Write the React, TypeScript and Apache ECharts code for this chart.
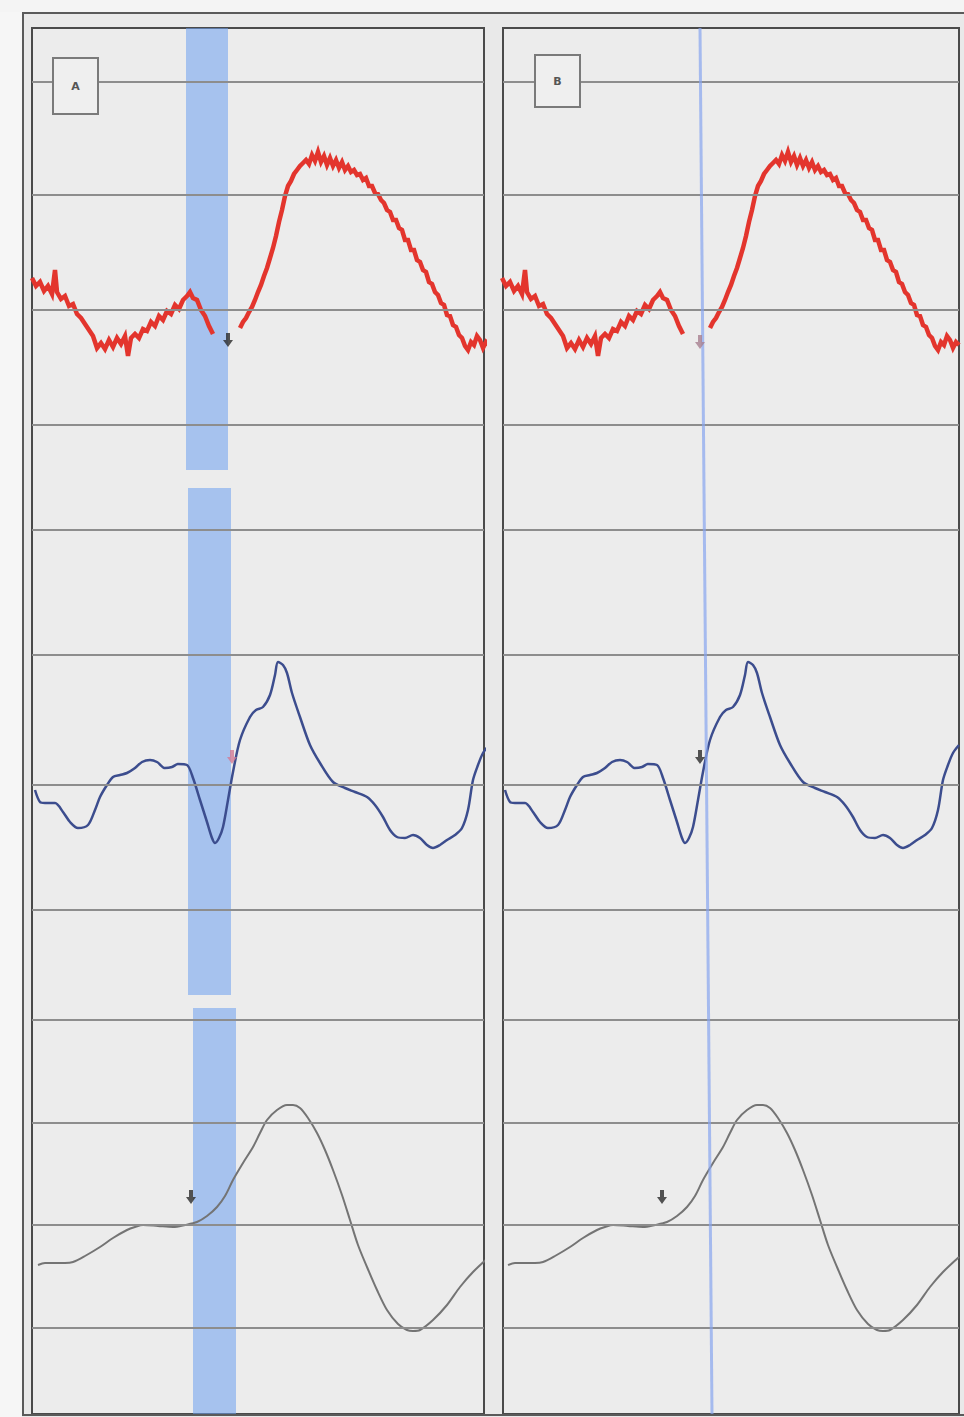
import React, { useEffect, useRef } from "react";
import * as echarts from "echarts";

// Horizontal chart-paper rulings (chart units, shared by both panels)
const rulings = [82, 195, 310, 425, 530, 655, 785, 910, 1020, 1123, 1225, 1328];

// Panel labels
const panelLabels = ["A", "B"];

// Red (noisy) trace, before and after the gap
const redSeg1: [number, number][] = [
  [32, 278], [36, 286], [40, 282], [44, 291], [48, 286], [52, 294], [55, 270], [57, 292],
  [61, 299], [65, 296], [69, 306], [73, 304], [77, 314], [81, 318], [85, 324], [89, 330],
  [93, 336], [97, 348], [101, 343], [105, 349], [109, 340], [113, 347], [117, 338], [121, 344],
  [125, 336], [128, 356], [131, 338], [135, 334], [139, 338], [143, 329], [147, 331], [151, 322],
  [155, 326], [159, 316], [163, 320], [167, 311], [171, 314], [175, 305], [179, 309], [183, 300],
  [187, 296], [190, 292], [193, 298], [197, 300], [201, 310], [205, 316], [209, 326], [213, 334],
];
const redSeg2: [number, number][] = [
  [240, 328], [243, 322], [246, 318], [249, 312], [252, 307], [255, 300], [258, 292], [261, 285],
  [264, 276], [267, 268], [270, 258], [273, 248], [276, 236], [279, 222], [282, 210], [285, 196],
  [288, 186], [291, 181], [294, 174], [297, 170], [300, 166], [303, 163], [306, 160], [309, 164],
  [312, 155], [315, 161], [318, 152], [321, 162], [324, 156], [327, 165], [330, 158], [333, 166],
  [336, 160], [339, 168], [342, 162], [345, 170], [348, 166], [351, 172], [354, 170], [357, 175],
  [360, 174], [363, 180], [366, 178], [369, 186], [372, 186], [375, 193], [378, 194], [381, 200],
  [384, 203], [387, 210], [390, 212], [393, 220], [396, 220], [399, 228], [402, 230], [405, 240],
  [408, 240], [411, 250], [414, 250], [417, 260], [420, 262], [423, 270], [426, 272], [429, 282],
  [432, 284], [435, 292], [438, 295], [441, 303], [444, 305], [447, 315], [450, 316], [453, 325],
  [456, 327], [459, 335], [462, 338], [465, 346], [468, 350], [471, 342], [474, 345], [477, 336],
  [480, 340], [483, 348], [486, 342], [489, 345],
];

// Blue trace
const blueTrace: [number, number][] = [
  [35, 790], [40, 802], [45, 803], [55, 803], [63, 812], [70, 822], [78, 828], [88, 825],
  [95, 810], [100, 797], [107, 785], [113, 777], [120, 775], [127, 773], [135, 768], [142, 762],
  [150, 760], [157, 762], [165, 768], [172, 767], [178, 764], [187, 765], [193, 778], [200, 800],
  [207, 822], [212, 838], [215, 843], [219, 838], [223, 827], [228, 800], [233, 772], [240, 740],
  [250, 717], [256, 710], [263, 707], [270, 695], [275, 675], [278, 662], [283, 665], [287, 673],
  [292, 693], [300, 717], [310, 745], [320, 763], [333, 782], [345, 788], [355, 792], [367, 797],
  [375, 805], [383, 817], [390, 830], [397, 837], [405, 838], [413, 835], [420, 838], [427, 845],
  [433, 848], [440, 845], [447, 840], [455, 835], [462, 828], [468, 810], [473, 780], [478, 765],
  [483, 753], [489, 745],
];

// Gray trace
const grayTrace: [number, number][] = [
  [38, 1265], [45, 1263], [55, 1263], [65, 1263], [73, 1262], [85, 1256], [100, 1247], [113, 1238],
  [127, 1230], [135, 1227], [143, 1225], [158, 1226], [173, 1227], [185, 1225], [197, 1222],
  [207, 1216], [217, 1207], [225, 1196], [233, 1180], [243, 1163], [253, 1147], [260, 1133],
  [267, 1120], [277, 1110], [287, 1105], [293, 1105], [300, 1108], [308, 1118], [317, 1133],
  [325, 1150], [333, 1170], [342, 1195], [350, 1220], [358, 1245], [367, 1267], [377, 1290],
  [387, 1310], [398, 1324], [407, 1330], [413, 1331], [420, 1330], [433, 1320], [447, 1305],
  [460, 1287], [473, 1272], [489, 1257],
];

// Highlight band in panel A: [xFrom, xTo, yFrom, yTo]
const bandA: [number, number, number, number][] = [
  [186, 228, 28, 470],
  [188, 231, 488, 995],
  [193, 236, 1008, 1414],
];

// Cursor line in panel B: [x, y] from top to bottom
const cursorB: [number, number][] = [[230, 28], [242, 1414]];

// Arrow markers per panel
const markersA = [
  { value: [228, 340], color: "#2a2a2a" },
  { value: [232, 757], color: "#d27a95" },
  { value: [191, 1197], color: "#2a2a2a" },
];
const markersB = [
  { value: [230, 342], color: "#a88090" },
  { value: [230, 757], color: "#2a2a2a" },
  { value: [192, 1197], color: "#2a2a2a" },
];

const xRanges: [number, number][] = [[32, 484], [33, 489]];

const ARROW = "path://M3,0 L7,0 L7,7 L10,7 L5,14 L0,7 L3,7 Z";

export default function App() {
  const ref = useRef<HTMLDivElement>(null);

  useEffect(() => {
    if (!ref.current) return;
    const chart = echarts.init(ref.current, undefined, { renderer: "svg" });

    const redTrace: any[] = [...redSeg1, [226, "-"], ...redSeg2];
    const grids = [
      { left: 32, top: 28, width: 452, height: 1386 },
      { left: 503, top: 28, width: 456, height: 1386 },
    ].map((g) => ({
      ...g,
      show: true,
      backgroundColor: "#ececec",
      borderColor: "#4a4a4a",
      borderWidth: 2,
    }));

    const series: any[] = [];
    [0, 1].forEach((p) => {
      series.push({
        type: "line",
        xAxisIndex: p,
        yAxisIndex: p,
        data: [],
        z: 1,
        silent: true,
        markLine: {
          silent: true,
          symbol: "none",
          label: { show: false },
          lineStyle: { color: "#8d8d8d", width: 2, type: "solid" },
          data: rulings.map((v) => ({ yAxis: v })),
        },
      });
      series.push({
        type: "line",
        xAxisIndex: p,
        yAxisIndex: p,
        data: redTrace,
        showSymbol: false,
        connectNulls: false,
        z: 3,
        lineStyle: { color: "#e3352d", width: 4.5, join: "miter" },
      });
      series.push({
        type: "line",
        xAxisIndex: p,
        yAxisIndex: p,
        data: blueTrace,
        showSymbol: false,
        smooth: 0.3,
        z: 3,
        lineStyle: { color: "#3c4d8e", width: 2.5 },
      });
      series.push({
        type: "line",
        xAxisIndex: p,
        yAxisIndex: p,
        data: grayTrace,
        showSymbol: false,
        smooth: 0.3,
        z: 3,
        lineStyle: { color: "#747474", width: 2 },
      });
      if (p === 0) {
        series.push({
          type: "line",
          xAxisIndex: 0,
          yAxisIndex: 0,
          data: [],
          z: 10,
          silent: true,
          markArea: {
            silent: true,
            itemStyle: { color: "rgba(110,160,240,0.55)" },
            data: bandA.map(([x1, x2, y1, y2]) => [{ coord: [x1, y1] }, { coord: [x2, y2] }]),
          },
        });
      } else {
        series.push({
          type: "line",
          xAxisIndex: 1,
          yAxisIndex: 1,
          data: [],
          z: 10,
          silent: true,
          markLine: {
            silent: true,
            symbol: "none",
            label: { show: false },
            lineStyle: { color: "rgba(135,165,240,0.7)", width: 3, type: "solid" },
            data: [[{ coord: cursorB[0] }, { coord: cursorB[1] }]],
          },
        });
      }
      const markers = p === 0 ? markersA : markersB;
      series.push({
        type: "scatter",
        xAxisIndex: p,
        yAxisIndex: p,
        symbol: ARROW,
        symbolSize: [10, 14],
        symbolKeepAspect: false,
        z: 12,
        silent: true,
        data: markers.map((m) => ({ value: m.value, itemStyle: { color: m.color } })),
      });
    });

    const labelBoxes = [
      { x: 53, y: 58, w: 45, h: 56 },
      { x: 535, y: 55, w: 45, h: 52 },
    ];

    chart.setOption({
      animation: false,
      backgroundColor: "#e9e9e9",
      grid: grids,
      xAxis: [0, 1].map((p) => ({
        type: "value",
        gridIndex: p,
        min: xRanges[p][0],
        max: xRanges[p][1],
        show: false,
      })),
      yAxis: [0, 1].map((p) => ({
        type: "value",
        gridIndex: p,
        min: 28,
        max: 1414,
        inverse: true,
        show: false,
      })),
      series,
      graphic: [
        { type: "rect", z: -1, shape: { x: 0, y: 0, width: 22, height: 1417 }, style: { fill: "#f6f6f6" } },
        { type: "rect", z: -1, shape: { x: 0, y: 0, width: 964, height: 12 }, style: { fill: "#f4f4f4" } },
        {
          type: "rect",
          z: 50,
          shape: { x: 23, y: 13, width: 945, height: 1402 },
          style: { fill: "none", stroke: "#5a5a5a", lineWidth: 2 },
        },
        ...labelBoxes.flatMap((b, i) => [
          {
            type: "rect",
            z: 60,
            shape: { x: b.x, y: b.y, width: b.w, height: b.h },
            style: { fill: "#efefef", stroke: "#7a7a7a", lineWidth: 2 },
          },
          {
            type: "text",
            z: 61,
            x: b.x + b.w / 2,
            y: b.y + b.h / 2,
            style: {
              text: panelLabels[i],
              fill: "#555555",
              font: "bold 11px 'DejaVu Sans'",
              align: "center",
              verticalAlign: "middle",
            },
          },
        ]),
      ],
    });

    return () => chart.dispose();
  }, []);

  return (
    <div
      ref={ref}
      style={{ position: "fixed", left: 0, top: 0, width: 964, height: 1417 }}
    />
  );
}
